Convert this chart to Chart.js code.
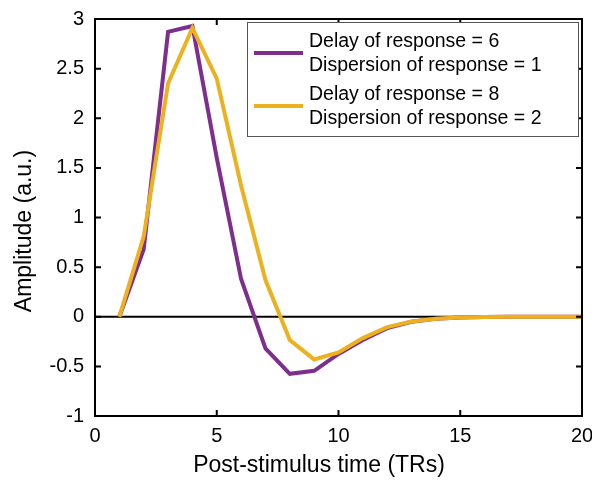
<!DOCTYPE html>
<html>
<head>
<meta charset="utf-8">
<script src="https://cdn.jsdelivr.net/npm/chart.js@4/dist/chart.umd.min.js"></script>
<style>
  html, body { margin: 0; padding: 0; background: #fff; }
  #wrap { width: 592px; height: 480px; }
</style>
</head>
<body>
<div id="wrap"><canvas id="hrf" width="592" height="480"></canvas></div>
<script>
// ── data ──
const timePoints = [1, 2, 3, 4, 5, 6, 7, 8, 9, 10, 11, 12, 13, 14, 15, 16, 17, 18, 19, 20];
const hrfShort = [0, 0.68, 2.87, 2.93, 1.6, 0.38, -0.32, -0.575, -0.545, -0.375, -0.235, -0.115, -0.05, -0.02, -0.007, -0.002, 0, 0, 0, 0];
const hrfLong  = [0, 0.81, 2.35, 2.91, 2.40, 1.32, 0.37, -0.235, -0.43, -0.36, -0.215, -0.105, -0.048, -0.02, -0.008, -0.003, 0, 0, 0, 0];
const legendShort = ['Delay of response = 6', 'Dispersion of response = 1'];
const legendLong  = ['Delay of response = 8', 'Dispersion of response = 2'];
const xTicks = [0, 5, 10, 15, 20];
const yTicks = [-1, -0.5, 0, 0.5, 1, 1.5, 2, 2.5, 3];
const xTitle = 'Post-stimulus time (TRs)';
const yTitle = 'Amplitude (a.u.)';

const PURPLE = '#7E2F8E';
const ORANGE = '#EDB120';
const FONT = "'Liberation Sans', Arial, Helvetica, sans-serif";

function pts(ys) {
  return timePoints.map((t, i) => ({ x: t, y: ys[i] }));
}

// zero line under the curves
const zeroLine = {
  id: 'zeroLine',
  beforeDatasetsDraw(chart) {
    const { ctx, chartArea: a, scales: { y } } = chart;
    const py = y.getPixelForValue(0);
    ctx.save();
    ctx.strokeStyle = '#000';
    ctx.lineWidth = 2;
    ctx.beginPath();
    ctx.moveTo(a.left, py);
    ctx.lineTo(a.right, py);
    ctx.stroke();
    ctx.restore();
  }
};

// box + inward ticks + axis titles + legend
const frame = {
  id: 'frame',
  afterDraw(chart) {
    const { ctx, chartArea: a, scales: { x, y } } = chart;
    ctx.save();
    ctx.strokeStyle = '#000';
    ctx.lineWidth = 2;
    ctx.strokeRect(a.left, a.top, a.right - a.left, a.bottom - a.top);
    const len = 6;
    ctx.beginPath();
    xTicks.forEach(v => {
      const px = x.getPixelForValue(v);
      ctx.moveTo(px, a.bottom); ctx.lineTo(px, a.bottom - len);
      ctx.moveTo(px, a.top);    ctx.lineTo(px, a.top + len);
    });
    yTicks.forEach(v => {
      const py = y.getPixelForValue(v);
      ctx.moveTo(a.left, py);  ctx.lineTo(a.left + len, py);
      ctx.moveTo(a.right, py); ctx.lineTo(a.right - len, py);
    });
    ctx.stroke();

    // axis titles
    ctx.fillStyle = '#000';
    ctx.font = '23px ' + FONT;
    ctx.textAlign = 'center';
    ctx.textBaseline = 'middle';
    ctx.fillText(xTitle, 319, 466);
    ctx.save();
    ctx.translate(25, 231);
    ctx.rotate(-Math.PI / 2);
    ctx.fillText(yTitle, 0, 0);
    ctx.restore();

    // legend box
    const bx = 247, by = 22, bw = 331, bh = 114;
    ctx.fillStyle = '#fff';
    ctx.fillRect(bx, by, bw, bh);
    ctx.strokeStyle = '#555';
    ctx.lineWidth = 1;
    ctx.strokeRect(bx + 0.5, by + 0.5, bw, bh);

    const entries = [
      { color: PURPLE, lines: legendShort, y0: by + 20 },
      { color: ORANGE, lines: legendLong,  y0: by + 73 }
    ];
    ctx.font = '19.5px ' + FONT;
    ctx.textBaseline = 'middle';
    ctx.textAlign = 'left';
    entries.forEach(e => {
      ctx.strokeStyle = e.color;
      ctx.lineWidth = 4;
      ctx.beginPath();
      ctx.moveTo(bx + 7, e.y0 + 11);
      ctx.lineTo(bx + 56, e.y0 + 11);
      ctx.stroke();
      ctx.fillStyle = '#000';
      e.lines.forEach((t, i) => ctx.fillText(t, bx + 62, e.y0 + i * 24));
    });
    ctx.restore();
  }
};

new Chart(document.getElementById('hrf').getContext('2d'), {
  type: 'line',
  data: {
    datasets: [
      {
        label: legendShort.join(' '),
        data: pts(hrfShort),
        borderColor: PURPLE,
        borderWidth: 4,
        pointRadius: 0,
        tension: 0,
        fill: false,
        order: 1
      },
      {
        label: legendLong.join(' '),
        data: pts(hrfLong),
        borderColor: ORANGE,
        borderWidth: 4,
        pointRadius: 0,
        tension: 0,
        fill: false,
        order: 0
      }
    ]
  },
  options: {
    responsive: false,
    animation: false,
    layout: { padding: { left: 0, right: 10, top: 19, bottom: 0 } },
    scales: {
      x: {
        type: 'linear',
        min: 0, max: 20,
        afterFit(s) { s.height = 64; s.paddingLeft = 0; s.paddingRight = 0; },
        afterBuildTicks(s) { s.ticks = xTicks.map(v => ({ value: v })); },
        grid: { display: false, drawTicks: false },
        border: { display: false },
        ticks: { color: '#000', padding: 8, font: { family: FONT, size: 20 }, callback: v => String(v) }
      },
      y: {
        type: 'linear',
        min: -1, max: 3,
        afterFit(s) { s.width = 95; s.paddingTop = 0; s.paddingBottom = 0; },
        afterBuildTicks(s) { s.ticks = yTicks.map(v => ({ value: v })); },
        grid: { display: false, drawTicks: false },
        border: { display: false },
        ticks: { color: '#000', padding: 11, font: { family: FONT, size: 20 }, callback: v => String(v) }
      }
    },
    plugins: {
      legend: { display: false },
      tooltip: { enabled: false }
    }
  },
  plugins: [zeroLine, frame]
});
</script>
</body>
</html>
